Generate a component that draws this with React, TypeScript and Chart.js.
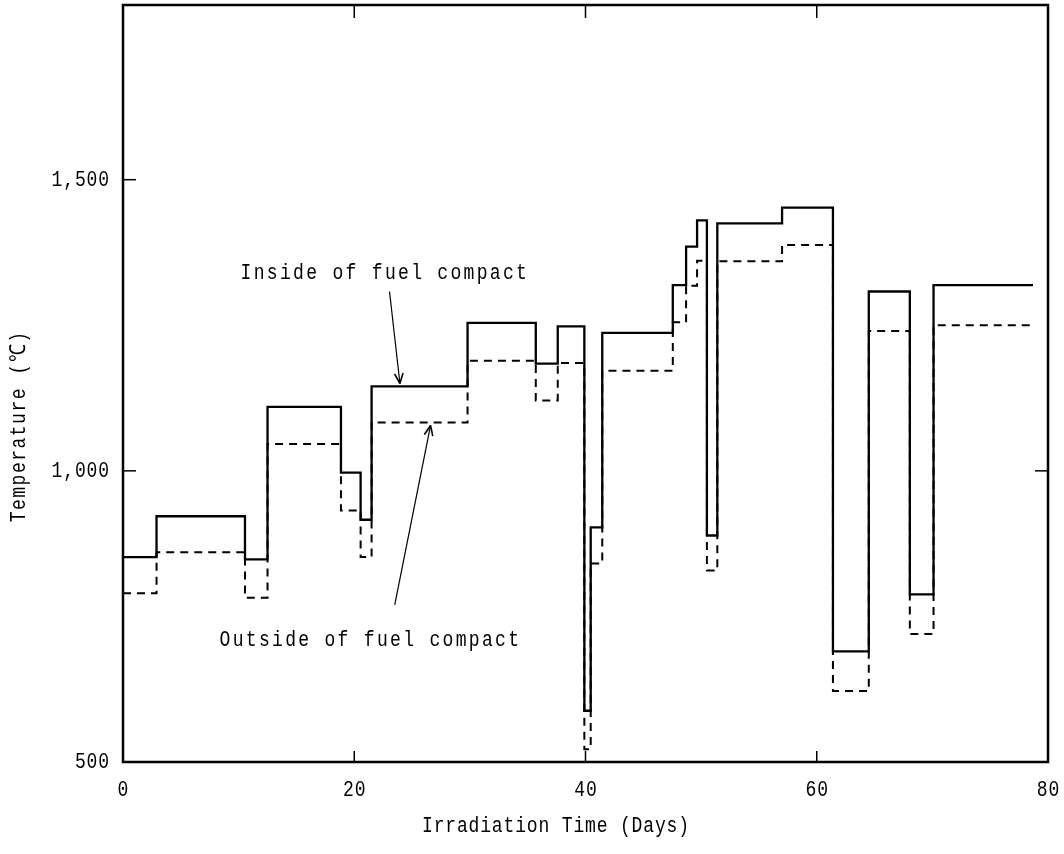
import React, { useEffect, useRef } from 'react';
import { Chart, registerables } from 'chart.js';

Chart.register(...registerables);

// Irradiation time (days) at which each constant-temperature step begins (last = end of run)
const stepDays = [0, 2.9, 10.55, 12.5, 18.85, 20.55, 21.5, 29.8, 35.7, 37.6, 39.9, 40.45, 41.45, 47.55, 48.7, 49.65, 50.5, 51.4, 57.0, 61.4, 64.5, 68.05, 70.1, 78.7];
// Inside of fuel compact temperature (°C) from each step start
const insideTemps = [852, 922, 848, 1110, 997, 916, 1145, 1254, 1184, 1248, 588, 903, 1237, 1319, 1385, 1430, 889, 1425, 1452, 690, 1308, 788, 1319, 1319];
// Outside of fuel compact temperature (°C) from each step start
const outsideTemps = [790, 860, 782, 1046, 932, 852, 1083, 1189, 1121, 1185, 522, 841, 1172, 1255, 1318, 1361, 829, 1360, 1388, 622, 1240, 720, 1250, 1250];

const xTickValues = [0, 20, 40, 60, 80];
const xTickLabels = ['0', '20', '40', '60', '80'];
const yTickValues = [500, 1000, 1500];
const yTickLabels = ['500', '1,000', '1,500'];

const xTitle = 'Irradiation Time (Days)';
const yTitle = 'Temperature (℃)';
const insideLabel = 'Inside of fuel compact';
const outsideLabel = 'Outside of fuel compact';

// annotation anchors in data units (day, temperature)
const insideLabelAt = [22.55, 1339];
const insideArrow = [[23.05, 1308], [23.95, 1150]];
const outsideLabelAt = [21.3, 709];
const outsideArrow = [[23.5, 770], [26.6, 1078]];

const FONT = '"Liberation Mono", "DejaVu Sans Mono", monospace';

function condensedText(ctx: any, text: string, x: number, y: number, align: string, spacing: number, rotate = false) {
  ctx.save();
  ctx.translate(x, y);
  if (rotate) ctx.rotate(-Math.PI / 2);
  ctx.scale(0.82, 1);
  ctx.font = '22px ' + FONT;
  ctx.letterSpacing = spacing + 'px';
  ctx.textAlign = align;
  ctx.textBaseline = 'middle';
  let dx = 0;
  if (align === 'center') dx = spacing / 2;
  else if (align === 'right') dx = spacing;
  ctx.fillText(text, dx, 0);
  ctx.restore();
}

const decorPlugin = {
  id: 'decor',
  afterDraw(chart: any) {
    const { ctx, chartArea: a, scales } = chart;
    const xs = scales.x;
    const ys = scales.y;
    const seg = (x1: number, y1: number, x2: number, y2: number) => {
      ctx.beginPath();
      ctx.moveTo(x1, y1);
      ctx.lineTo(x2, y2);
      ctx.stroke();
    };
    ctx.save();
    ctx.strokeStyle = '#000';
    ctx.fillStyle = '#000';
    ctx.setLineDash([]);
    // frame
    ctx.lineWidth = 2.5;
    ctx.strokeRect(a.left, a.top, a.right - a.left, a.bottom - a.top);
    // inward ticks
    ctx.lineWidth = 1.5;
    [20, 40, 60].forEach((v) => {
      const px = xs.getPixelForValue(v);
      seg(px, a.bottom, px, a.bottom - 11);
      seg(px, a.top, px, a.top + 13);
    });
    [1000, 1500].forEach((v) => {
      const py = ys.getPixelForValue(v);
      seg(a.left, py, a.left + 13, py);
    });
    {
      const py = ys.getPixelForValue(1000);
      seg(a.right, py, a.right - 13, py);
    }
    // tick labels
    xTickValues.forEach((v, i) => {
      condensedText(ctx, xTickLabels[i], xs.getPixelForValue(v), a.bottom + 28, 'center', 1);
    });
    yTickValues.forEach((v, i) => {
      condensedText(ctx, yTickLabels[i], a.left - 14, ys.getPixelForValue(v), 'right', 1);
    });
    // axis titles
    condensedText(ctx, xTitle, (a.left + a.right) / 2 - 30, a.bottom + 64, 'center', 1);
    condensedText(ctx, yTitle, 19, ys.getPixelForValue(1075), 'center', 1.8, true);
    // annotations
    condensedText(ctx, insideLabel, xs.getPixelForValue(insideLabelAt[0]), ys.getPixelForValue(insideLabelAt[1]), 'center', 2.8);
    condensedText(ctx, outsideLabel, xs.getPixelForValue(outsideLabelAt[0]), ys.getPixelForValue(outsideLabelAt[1]), 'center', 2.8);
    const arrow = (pts: number[][]) => {
      const x1 = xs.getPixelForValue(pts[0][0]);
      const y1 = ys.getPixelForValue(pts[0][1]);
      const x2 = xs.getPixelForValue(pts[1][0]);
      const y2 = ys.getPixelForValue(pts[1][1]);
      ctx.lineWidth = 1.2;
      seg(x1, y1, x2, y2);
      const ang = Math.atan2(y2 - y1, x2 - x1);
      const L = 11;
      const w = 0.4;
      ctx.lineWidth = 1.6;
      seg(x2, y2, x2 - L * Math.cos(ang - w), y2 - L * Math.sin(ang - w));
      seg(x2, y2, x2 - L * Math.cos(ang + w), y2 - L * Math.sin(ang + w));
    };
    arrow(insideArrow);
    arrow(outsideArrow);
    ctx.restore();
  },
};

export default function App() {
  const canvasRef = useRef<HTMLCanvasElement | null>(null);

  useEffect(() => {
    const canvas = canvasRef.current;
    if (!canvas) return;
    const insidePts = stepDays.map((d, i) => ({ x: d, y: insideTemps[i] }));
    const outsidePts = stepDays.map((d, i) => ({ x: d, y: outsideTemps[i] }));
    const chart = new Chart(canvas, {
      type: 'line',
      data: {
        datasets: [
          {
            label: outsideLabel,
            data: outsidePts,
            stepped: 'before',
            borderColor: '#000',
            borderWidth: 2,
            borderDash: [8, 6],
            pointRadius: 0,
            fill: false,
          },
          {
            label: insideLabel,
            data: insidePts,
            stepped: 'before',
            borderColor: '#000',
            borderWidth: 2.3,
            pointRadius: 0,
            fill: false,
          },
        ],
      },
      options: {
        animation: false,
        responsive: true,
        maintainAspectRatio: false,
        layout: { padding: { left: 123, right: 16, top: 5, bottom: 92 } },
        plugins: { legend: { display: false }, tooltip: { enabled: false } },
        scales: {
          x: { type: 'linear', min: 0, max: 80, display: false },
          y: { type: 'linear', min: 500, max: 1800, display: false },
        },
      },
      plugins: [decorPlugin],
    });
    return () => chart.destroy();
  }, []);

  return (
    <div style={{ position: 'absolute', left: 0, top: 0, width: 1064, height: 854, background: '#fff' }}>
      <canvas ref={canvasRef} />
    </div>
  );
}
